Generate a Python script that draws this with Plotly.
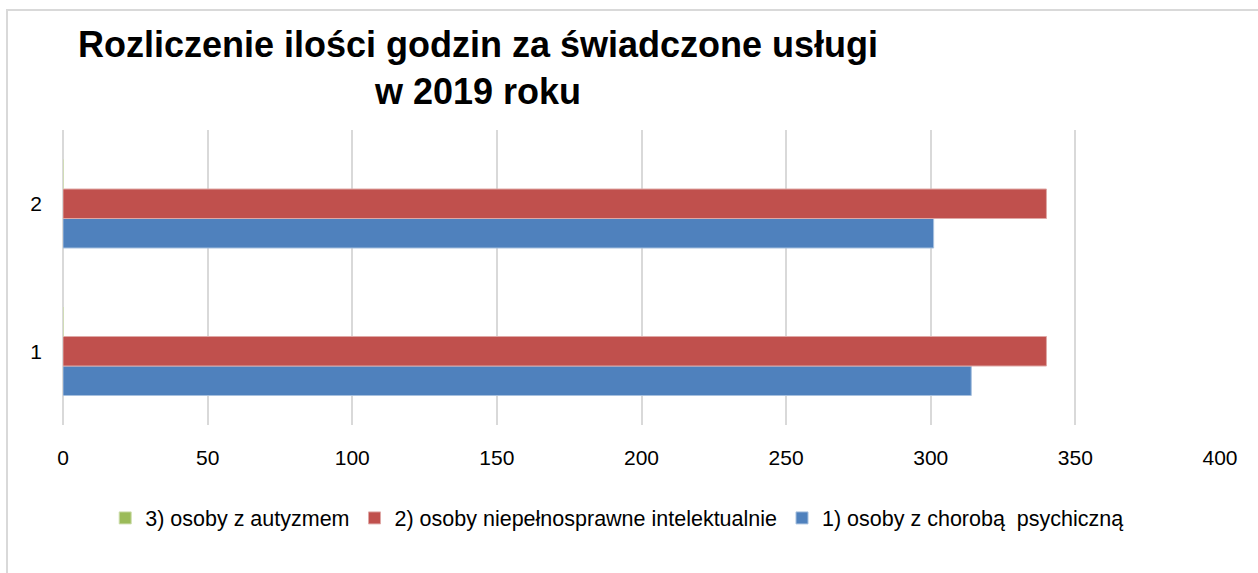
import plotly.graph_objects as go

categories = [1, 2]
series_names = ['1) osoby z chorobą  psychiczną',
                '2) osoby niepełnosprawne intelektualnie',
                '3) osoby z autyzmem']
values_psych = [314, 301]
values_intel = [340, 340]
values_autyzm = [0, 0]
x_ticks = [0, 50, 100, 150, 200, 250, 300, 350, 400]

COLOURS = ['#4F81BD', '#C0504D', '#9BBB59']
EDGES = ['#A7C0DE', '#DFA8A6', '#CDDDAC']
GRID = '#D9D9D9'
FONT = 'Liberation Sans'

fig = go.Figure()
for name, vals, col, edge in zip(series_names,
                                 [values_psych, values_intel, values_autyzm],
                                 COLOURS, EDGES):
    fig.add_trace(go.Bar(y=categories, x=vals, name=name, orientation='h',
                         marker=dict(color=col, line=dict(color=edge, width=1))))

fig.update_layout(
    width=1258, height=573,
    barmode='group', bargap=0.4, bargroupgap=0,
    plot_bgcolor='white', paper_bgcolor='white',
    margin=dict(l=63, r=38, t=130, b=148, autoexpand=False),
    font=dict(family=FONT, size=21, color='#000000'),
    title=dict(text='<b>Rozliczenie ilości godzin za świadczone usługi<br>w 2019 roku</b>',
               x=478 / 1258, xanchor='center', y=1 - 57 / 573, yanchor='top',
               font=dict(family=FONT, size=36, color='#000000')),
    legend=dict(orientation='h', traceorder='reversed', itemwidth=30,
                x=0.479, xanchor='center', y=-0.315, yanchor='middle',
                font=dict(family=FONT, size=21.5)),
    shapes=[dict(type='rect', xref='paper', yref='paper',
                 x0=(7 - 63) / 1157, x1=1.2, y0=-1, y1=(425 - 10) / 295,
                 line=dict(color=GRID, width=2), layer='below')],
)
fig.update_xaxes(range=[0, 400], tickvals=x_ticks, showgrid=True, gridcolor=GRID,
                 gridwidth=2, zeroline=True, zerolinecolor=GRID, zerolinewidth=2,
                 ticklabelstandoff=18, showline=False, automargin=False)
fig.update_yaxes(range=[0.5, 2.5], tickvals=categories, showgrid=False,
                 zeroline=False, ticklabelstandoff=20, showline=False, automargin=False)

fig.write_html("out.html", config={'displayModeBar': False},
               post_script="document.body.style.margin='0';document.body.style.overflow='hidden';")
